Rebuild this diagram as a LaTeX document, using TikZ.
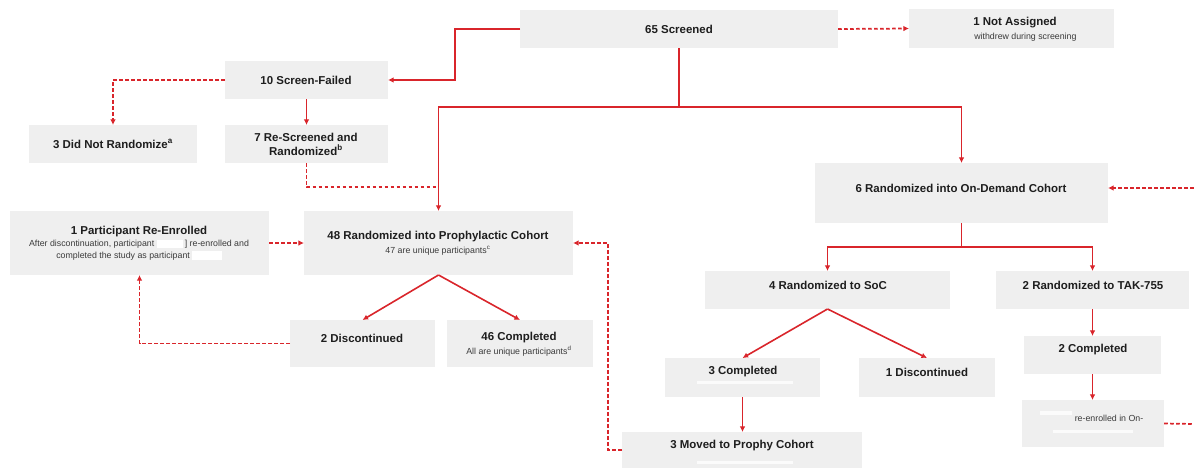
\documentclass[tikz,border=0pt]{standalone}
\usepackage{fontspec}
\setmainfont{Liberation Sans}
\usetikzlibrary{fit,arrows.meta}
\definecolor{boxgray}{HTML}{EFEFEF}
\definecolor{flowred}{HTML}{D9252B}
\definecolor{txtdark}{HTML}{1E1E1E}
\definecolor{txtsub}{HTML}{3A3A3A}
\newcommand{\redact}[1]{\textcolor{white}{\rule[-1.2pt]{#1}{6.5pt}}}
\tikzset{
  box/.style={fill=boxgray, draw=none, inner sep=0pt, outer sep=0pt},
  ttl/.style={font=\bfseries\fontsize{8.6}{10.2}\selectfont, text=txtdark, inner sep=0pt, align=center},
  sub/.style={font=\fontsize{6.6}{8.6}\selectfont, text=txtsub, inner sep=0pt, align=center},
  ln/.style={draw=flowred, line width=1.2pt},
  dl/.style={draw=flowred, line width=1.3pt, dash pattern=on 2.8pt off 1.7pt},
  tip/.style={-{Latex[length=4.2pt,width=4.2pt]}},
  wbar/.style={fill=white, draw=none, opacity=0.8}
}
\begin{document}
\begin{tikzpicture}[x=0.75pt,y=-0.75pt]
\useasboundingbox (0,0) rectangle (1194,468);
% boxes
\node[box, fit={(520,10) (838,48)}] (scr) {};
\node[box, fit={(909,9) (1114,48)}] (na) {};
\node[box, fit={(225,61) (388,99)}] (sf) {};
\node[box, fit={(29,125) (197,163)}] (dnr) {};
\node[box, fit={(225,125) (388,163)}] (rs) {};
\node[box, fit={(815,163) (1108,223)}] (od) {};
\node[box, fit={(10,211) (269,275)}] (pe) {};
\node[box, fit={(304,211) (573,275)}] (pro) {};
\node[box, fit={(290,320) (435,367)}] (disc) {};
\node[box, fit={(447,320) (593,367)}] (comp) {};
\node[box, fit={(705,271) (950,309)}] (soc) {};
\node[box, fit={(996,271) (1189,309)}] (tak) {};
\node[box, fit={(665,358) (820,397)}] (c3) {};
\node[box, fit={(859,358) (995,397)}] (d1) {};
\node[box, fit={(1024,336) (1161,374)}] (c2) {};
\node[box, fit={(1022,400) (1164,447)}] (re) {};
\node[box, fit={(622,432) (862,468)}] (mv) {};
% white redaction bars
\fill[wbar] (697,381) rectangle (793,384);
\fill[wbar] (697,461) rectangle (793,464);
\fill[wbar] (1040,411) rectangle (1072,415);
\fill[wbar] (1053,430) rectangle (1133,433);
% texts
\node[ttl] (tscr) at (679,29) {65 Screened};
\node[ttl, anchor=west] (tna) at (973,23) {1 Not Assigned};
\node[sub, anchor=west] (tna2) at (974,37) {withdrew during screening};
\node[ttl] (tsf) at (306,80) {10 Screen-Failed};
\node[ttl] (tdnr) at (113,144) {3 Did Not Randomize\textsuperscript{a}};
\node[ttl] (trs) at (306,144.5) {7 Re-Screened and\\Randomized\textsuperscript{b}};
\node[ttl] (tod) at (961,188) {6 Randomized into On-Demand Cohort};
\node[ttl] (tpe) at (139,232) {1 Participant Re-Enrolled};
\node[sub] (tpe2) at (139,250) {After discontinuation, participant \redact{20pt}\,] re-enrolled and\\completed the study as participant \redact{22pt}};
\node[ttl] (tpro) at (438,237) {48 Randomized into Prophylactic Cohort};
\node[sub] (tpro2) at (438,251) {47 are unique participants\textsuperscript{c}};
\node[ttl] (tdisc) at (362,338) {2 Discontinued};
\node[ttl] (tcomp) at (519,338) {46 Completed};
\node[sub] (tcomp2) at (519,351.5) {All are unique participants\textsuperscript{d}};
\node[ttl] (tsoc) at (828,285) {4 Randomized to SoC};
\node[ttl] (ttak) at (1093,285) {2 Randomized to TAK-755};
\node[ttl] (tc3) at (743,372) {3 Completed};
\node[ttl] (td1) at (927,372) {1 Discontinued};
\node[ttl] (tc2) at (1093,350) {2 Completed};
\node[sub] (tre) at (1109,418.5) {re-enrolled in On-};
\node[ttl] (tmv) at (742,446) {3 Moved to Prophy Cohort};
% coordinates
\coordinate (hbar) at (680,107);
\coordinate (rsj) at (438,187);
\coordinate (odin) at (1194,188);
\coordinate (odbar) at (961,247);
\coordinate (reout) at (1194,424);
% solid connectors
\draw[ln,tip] (scr.west) -- ++(-65,0) |- (sf.east);
\draw[ln,tip] (sf.south) -- (rs.north);
\draw[ln,tip] (scr.south) -- (scr.south |- hbar) -| (pro.north);
\draw[ln,tip] (scr.south |- hbar) -| (od.north);
\draw[ln,tip] (pro.south) -- (disc.north);
\draw[ln,tip] (pro.south) -- (comp.north);
\draw[ln,tip] (od.south) -- (od.south |- odbar) -| (soc.north);
\draw[ln,tip] (od.south |- odbar) -| (tak.north);
\draw[ln,tip] (soc.south) -- (c3.north);
\draw[ln,tip] (soc.south) -- (d1.north);
\draw[ln,tip] (tak.south) -- (tak.south |- c2.north);
\draw[ln,tip] (c2.south) -- (c2.south |- re.north);
\draw[ln,tip] (c3.south) -- (c3.south |- mv.north);
% dashed connectors
\draw[dl,tip] (sf.west) -| (dnr.north);
\draw[dl] (rs.south) |- (rsj);
\draw[dl,tip] (scr.east) -- (na.west);
\draw[dl,tip] (odin) -- (odin -| od.east);
\draw[dl,tip] (pe.east) -- (pro.west);
\draw[dl,tip] (disc.west) -| (pe.south);
\draw[dl,tip] (mv.west) -- ++(-14,0) |- (pro.east);
\draw[dl] (re.east) -- (reout);
\end{tikzpicture}
\end{document}
